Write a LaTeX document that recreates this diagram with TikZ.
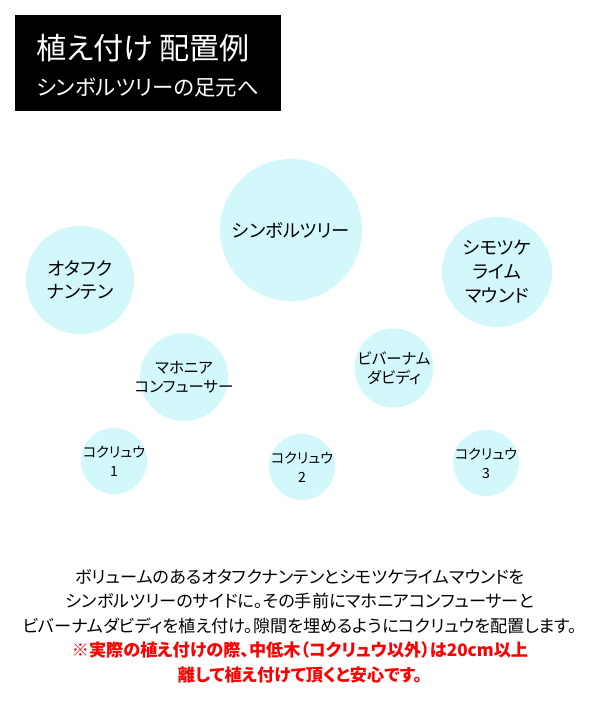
\documentclass[tikz,border=0pt]{standalone}
\usepackage{fontspec}
\setmainfont[RawFeature=+palt]{Noto Sans CJK JP}
\usepackage{tikz}
\usetikzlibrary{positioning}
\definecolor{treecyan}{RGB}{210,248,251}
\tikzset{
x=0.025cm, y=-0.025cm, % one unit is one pixel of the layout
every node/.style={inner sep=0pt, align=center}, % no padding around the texts
plant/.style={circle, fill=treecyan}, % sets the look of each planting spot
big/.style={font=\fontsize{13}{17}\selectfont},
mid/.style={font=\fontsize{13}{17}\selectfont},
small/.style={font=\fontsize{11}{13.5}\selectfont},
tiny/.style={font=\fontsize{10}{13.5}\selectfont},
}

\begin{document}
\begin{tikzpicture}
                \useasboundingbox (0,0) rectangle (600,720);

                \node[fill=black, minimum width=6.65cm, minimum height=2.4cm] (titlebox) at (148,63) {};
                \node[anchor=west, text=white, font=\fontsize{21.4}{24}\selectfont] (heading) at (36,48) {植え付け 配置例};
                \node[anchor=west, text=white, font=\fontsize{15.2}{17}\selectfont] (subheading) at (36,88) {シンボルツリーの足元へ};

                % planting spots
                \node[plant, minimum size=3.55cm] (symbol) at (291,230) {};
                \node[plant, minimum size=2.7cm] (otafuku) at (80,280) {};
                \node[plant, minimum size=2.75cm] (shimotsuke) at (497,272) {};
                \node[plant, minimum size=2.2cm] (mahonia) at (184,377) {};
                \node[plant, minimum size=1.975cm] (viburnum) at (394,368) {};
                \node[plant, minimum size=1.65cm] (kokuryu1) at (114,461) {};
                \node[plant, minimum size=1.65cm] (kokuryu2) at (302,467) {};
                \node[plant, minimum size=1.65cm] (kokuryu3) at (486,463) {};

                % names of the plants
                \node[big] (symbol text) at (symbol) {シンボルツリー};
                \node[mid] (otafuku text) at (otafuku) {オタフク\\ナンテン};
                \node[mid] (shimotsuke text) at (shimotsuke) {シモツケ\\ライム\\マウンド};
                \node[small] (mahonia text) at (mahonia) {マホニア\\コンフューサー};
                \node[small] (viburnum text) at (viburnum) {ビバーナム\\ダビディ};
                \node[tiny] (kokuryu1 text) at (kokuryu1) {コクリュウ\\1};
                \node[tiny] (kokuryu2 text) at (kokuryu2) {コクリュウ\\2};
                \node[tiny] (kokuryu3 text) at (kokuryu3) {コクリュウ\\3};

                \node[font=\fontsize{12.2}{17.4}\selectfont] (note) at (300,626) {%
                    ボリュームのあるオタフクナンテンとシモツケライムマウンドを\\
                    シンボルツリーのサイドに。その手前にマホニアコンフューサーと\\
                    ビバーナムダビディを植え付け。隙間を埋めるようにコクリュウを配置します。\\
                    {\color{red}\bfseries ※実際の植え付けの際、中低木（コクリュウ以外）は20cm以上}\\
                    {\color{red}\bfseries 離して植え付けて頂くと安心です。}};
\end{tikzpicture}
\end{document}
